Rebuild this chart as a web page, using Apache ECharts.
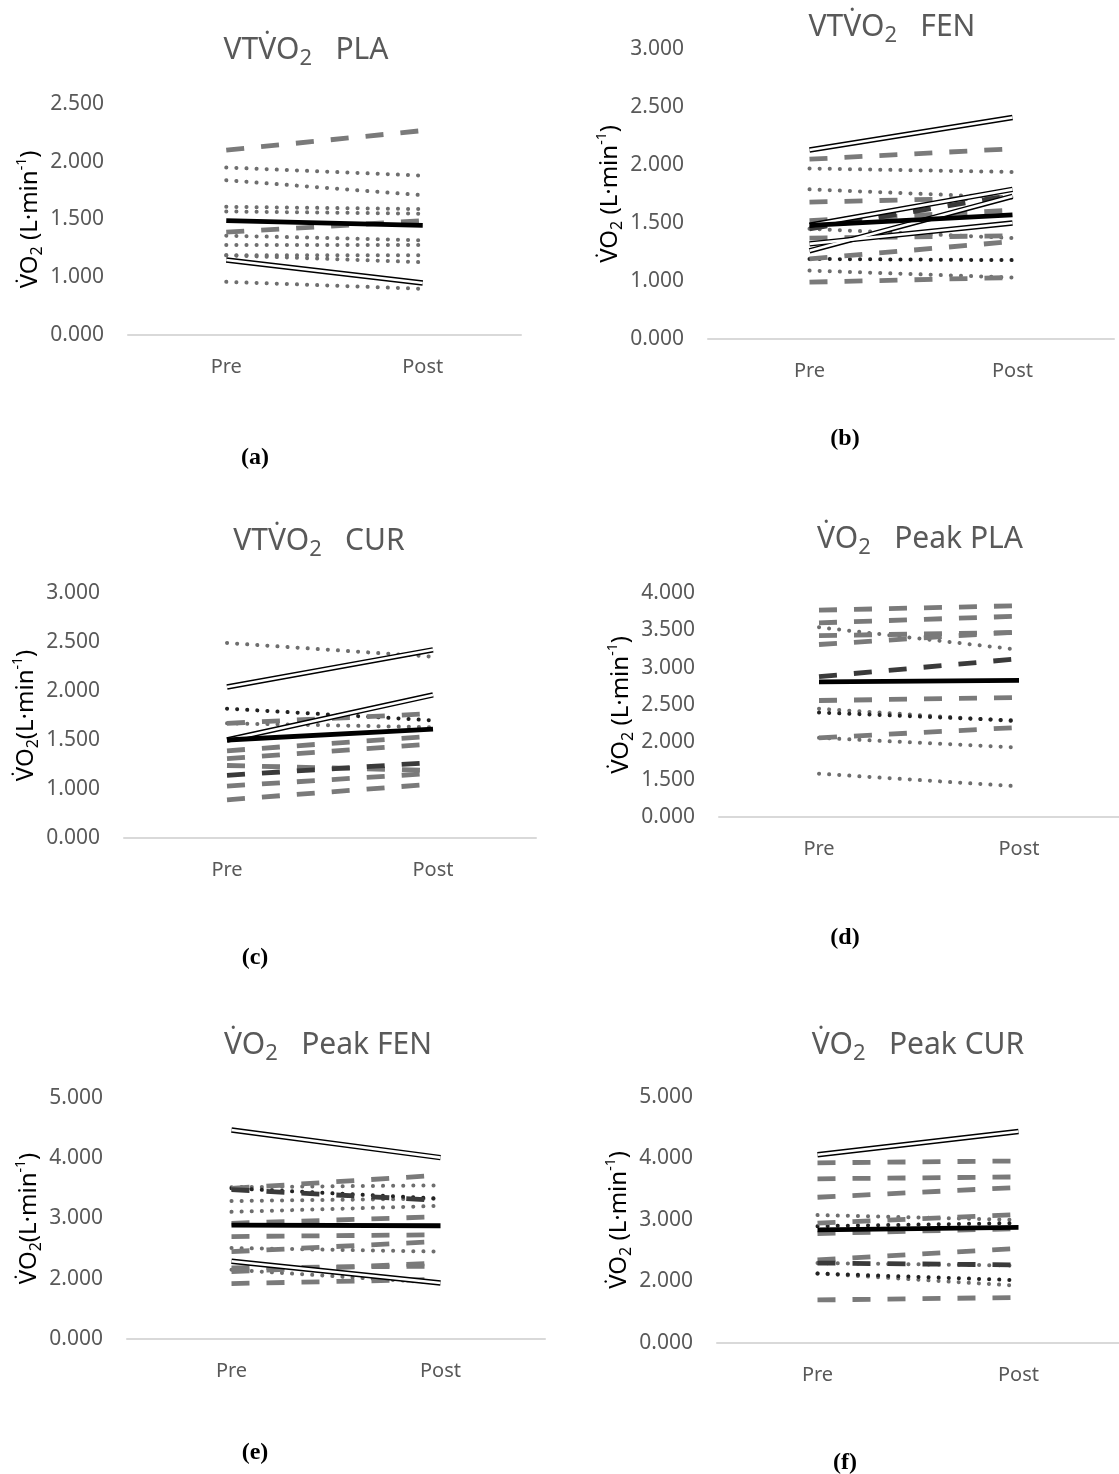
<!DOCTYPE html>
<html><head><meta charset="utf-8">
<script src="https://cdn.jsdelivr.net/npm/echarts@6/dist/echarts.min.js"></script>
<style>html,body{margin:0;padding:0;background:#fff}#c{width:1119px;height:1474px}</style>
</head><body><div id="c"></div>
<script>
const categories = ['Pre', 'Post'];

// (a) VT VO2 PLA
const aTicks = ['0.000', '1.000', '1.500', '2.000', '2.500'];
const aMean = [1.49, 1.45];
const aDashed = [[2.10, 2.27], [1.39, 1.49]];
const aDarkDashed = [];
const aDotted = [[1.95, 1.88], [1.84, 1.71], [1.61, 1.59], [1.57, 1.55], [1.36, 1.32], [1.28, 1.28], [1.19, 1.19], [1.19, 1.13], [0.96, 0.90]];
const aDarkDotted = [];
const aDouble = [[1.15, 0.95]];

// (b) VT VO2 FEN
const bTicks = ['0.000', '1.000', '1.500', '2.000', '2.500', '3.000'];
const bMean = [1.48, 1.57];
const bDashed = [[2.05, 2.14], [1.68, 1.72], [1.52, 1.61], [1.37, 1.39], [1.19, 1.34], [0.99, 1.03]];
const bDarkDashed = [[1.45, 1.74]];
const bDotted = [[1.97, 1.94], [1.79, 1.72], [1.45, 1.37], [1.09, 1.03]];
const bDarkDotted = [[1.19, 1.18]];
const bDouble = [[2.13, 2.41], [1.48, 1.79], [1.26, 1.73], [1.32, 1.50]];

// (c) VT VO2 CUR
const cTicks = ['0.000', '1.000', '1.500', '2.000', '2.500', '3.000'];
const cMean = [1.50, 1.61];
const cDashed = [[1.67, 1.77], [1.39, 1.54], [1.31, 1.46], [1.24, 1.19], [1.03, 1.16], [0.89, 1.05]];
const cDarkDashed = [[1.14, 1.27]];
const cDotted = [[2.49, 2.35], [1.67, 1.63]];
const cDarkDotted = [[1.82, 1.70]];
const cDouble = [[2.04, 2.42], [1.50, 1.96]];

// (d) VO2 Peak PLA
const dTicks = ['0.000', '1.500', '2.000', '2.500', '3.000', '3.500', '4.000'];
const dMean = [2.81, 2.83];
const dDashed = [[3.77, 3.83], [3.60, 3.69], [3.43, 3.47], [3.31, 3.48], [2.56, 2.60], [2.06, 2.20]];
const dDarkDashed = [[2.88, 3.12]];
const dDotted = [[3.54, 3.24], [2.45, 2.28], [2.06, 1.93], [1.58, 1.41]];
const dDarkDotted = [[2.40, 2.29]];
const dDouble = [];

// (e) VO2 Peak FEN
const eTicks = ['0.000', '2.000', '3.000', '4.000', '5.000'];
const eMean = [2.89, 2.88];
const eDashed = [[3.50, 3.72], [2.92, 3.03], [2.70, 2.73], [2.45, 2.62], [2.18, 2.21], [2.12, 2.26], [1.92, 1.99]];
const eDarkDashed = [[3.48, 3.30]];
const eDotted = [[3.52, 3.55], [3.29, 3.33], [3.11, 3.21], [2.51, 2.45], [2.15, 1.93]];
const eDarkDotted = [[3.50, 3.33]];
const eDouble = [[4.47, 4.01], [2.29, 1.93]];

// (f) VO2 Peak CUR
const fTicks = ['0.000', '2.000', '3.000', '4.000', '5.000'];
const fMean = [2.84, 2.88];
const fDashed = [[3.93, 3.96], [3.67, 3.70], [3.37, 3.53], [2.95, 3.09], [2.78, 2.86], [2.35, 2.54], [1.70, 1.74]];
const fDarkDashed = [[2.30, 2.27]];
const fDotted = [[3.08, 3.00], [2.30, 2.26], [2.13, 1.93]];
const fDarkDotted = [[2.13, 2.02], [2.90, 2.95]];
const fDouble = [[4.06, 4.44]];

const panels = [
  {ticks: aTicks, mean: aMean, dashed: aDashed, darkDashed: aDarkDashed, dotted: aDotted, darkDotted: aDarkDotted, dbl: aDouble,
   min: 0.5, max: 2.5, interval: 0.5, left: 128, top: 104, width: 393, height: 231,
   title: ['VTV\u0307O', '2', '   PLA'], tx: 306, ty: 30, cap: 'a', cx: 255, cy: 443, yname: ' (L·min'},
  {ticks: bTicks, mean: bMean, dashed: bDashed, darkDashed: bDarkDashed, dotted: bDotted, darkDotted: bDarkDotted, dbl: bDouble,
   min: 0.5, max: 3.0, interval: 0.5, left: 708, top: 49, width: 406, height: 290,
   title: ['VTV\u0307O', '2', '   FEN'], tx: 892, ty: 7, cap: 'b', cx: 845, cy: 424, yname: ' (L·min'},
  {ticks: cTicks, mean: cMean, dashed: cDashed, darkDashed: cDarkDashed, dotted: cDotted, darkDotted: cDarkDotted, dbl: cDouble,
   min: 0.5, max: 3.0, interval: 0.5, left: 124, top: 593, width: 412, height: 245,
   title: ['VTV\u0307O', '2', '   CUR'], tx: 319, ty: 521, cap: 'c', cx: 255, cy: 943, yname: '(L·min'},
  {ticks: dTicks, mean: dMean, dashed: dDashed, darkDashed: dDarkDashed, dotted: dDotted, darkDotted: dDarkDotted, dbl: dDouble,
   min: 1.0, max: 4.0, interval: 0.5, left: 719, top: 593, width: 415, height: 224,
   title: ['V\u0307O', '2', '   Peak PLA'], tx: 920, ty: 519, cap: 'd', cx: 845, cy: 923, yname: ' (L·min'},
  {ticks: eTicks, mean: eMean, dashed: eDashed, darkDashed: eDarkDashed, dotted: eDotted, darkDotted: eDarkDotted, dbl: eDouble,
   min: 1, max: 5, interval: 1, left: 127, top: 1098, width: 418, height: 241,
   title: ['V\u0307O', '2', '   Peak FEN'], tx: 328, ty: 1025, cap: 'e', cx: 255, cy: 1438, yname: '(L·min'},
  {ticks: fTicks, mean: fMean, dashed: fDashed, darkDashed: fDarkDashed, dotted: fDotted, darkDotted: fDarkDotted, dbl: fDouble,
   min: 1, max: 5, interval: 1, left: 717, top: 1097, width: 417, height: 246,
   title: ['V\u0307O', '2', '   Peak CUR'], tx: 918, ty: 1025, cap: 'f', cx: 845, cy: 1448, yname: ' (L·min'}
];

const FONT = '"Noto Sans", "Open Sans", "DejaVu Sans", sans-serif';
const SERIF = '"Liberation Serif", "DejaVu Serif", serif';
const grids = [], xAxes = [], yAxes = [], series = [], titles = [];

const styles = {
  dashed: {color: '#7a7a7a', width: 4.8, type: [18, 17], cap: 'butt'},
  darkDashed: {color: '#3a3a3a', width: 4.8, type: [18, 17], cap: 'butt'},
  dotted: {color: '#6e6e6e', width: 4, type: [0.1, 10], cap: 'round'},
  darkDotted: {color: '#222222', width: 4, type: [0.1, 10], cap: 'round'},
  mean: {color: '#000000', width: 4.8, type: 'solid'}
};

function addLine(i, data, ls, z) {
  series.push({
    type: 'line', xAxisIndex: i, yAxisIndex: i, data: data,
    symbol: 'none', showSymbol: false, silent: true, animation: false, z: z,
    lineStyle: Object.assign({}, ls)
  });
}

panels.forEach((p, i) => {
  grids.push({left: p.left, top: p.top, width: p.width, height: p.height, containLabel: false});
  xAxes.push({
    type: 'category', gridIndex: i, data: categories, boundaryGap: true,
    axisLine: {lineStyle: {color: '#d9d9d9', width: 2}},
    axisTick: {show: false},
    axisLabel: {color: '#595959', fontSize: 20, fontFamily: FONT, margin: 22}
  });
  const ticks = p.ticks;
  yAxes.push({
    type: 'value', gridIndex: i, min: p.min, max: p.max, interval: p.interval,
    splitLine: {show: false}, axisLine: {show: false}, axisTick: {show: false},
    axisLabel: {color: '#595959', fontSize: 21, fontFamily: FONT, margin: 24,
      formatter: (v, idx) => ticks[idx]},
    name: '{a|V\u0307O}{s|2}{a|' + p.yname + '}{p|-1}{a|)}',
    nameLocation: 'middle', nameRotate: 90, nameGap: 83,
    nameTextStyle: {
      color: '#000', fontFamily: FONT, fontSize: 24,
      rich: {
        a: {fontSize: 24, lineHeight: 30, color: '#000', fontFamily: FONT},
        s: {fontSize: 16, lineHeight: 10, verticalAlign: 'bottom', color: '#000', fontFamily: FONT},
        p: {fontSize: 14, lineHeight: 12, verticalAlign: 'top', color: '#000', fontFamily: FONT}
      }
    }
  });
  p.dotted.forEach(d => addLine(i, d, styles.dotted, 2));
  p.darkDotted.forEach(d => addLine(i, d, styles.darkDotted, 2));
  p.dashed.forEach(d => addLine(i, d, styles.dashed, 3));
  p.darkDashed.forEach(d => addLine(i, d, styles.darkDashed, 3));
  p.dbl.forEach(d => {
    addLine(i, d, {color: '#000', width: 5.5, type: 'solid'}, 4);
    addLine(i, d, {color: '#ffffff', width: 2.6, type: 'solid'}, 5);
  });
  addLine(i, p.mean, styles.mean, 6);

  titles.push({
    text: '{a|' + p.title[0] + '}{s|' + p.title[1] + '}{a|' + p.title[2] + '}',
    left: p.tx, top: p.ty, textAlign: 'center', padding: 0,
    textStyle: {
      fontFamily: FONT, fontSize: 30, color: '#595959', fontWeight: 'normal',
      rich: {
        a: {fontSize: 30, lineHeight: 40, color: '#595959', fontFamily: FONT},
        s: {fontSize: 22, lineHeight: 20, verticalAlign: 'bottom', color: '#595959', fontFamily: FONT}
      }
    }
  });
  titles.push({
    text: '{n|(}{b|' + p.cap + '}{n|)}',
    left: p.cx, top: p.cy, textAlign: 'center', padding: 0,
    textStyle: {
      fontSize: 24, color: '#000',
      rich: {
        n: {fontSize: 24, lineHeight: 30, fontFamily: SERIF, color: '#000'},
        b: {fontSize: 24, lineHeight: 30, fontWeight: 'bold', fontFamily: SERIF, color: '#000'}
      }
    }
  });
});

const chart = echarts.init(document.getElementById('c'), null, {renderer: 'canvas'});
chart.setOption({
  backgroundColor: '#ffffff',
  animation: false,
  title: titles,
  grid: grids,
  xAxis: xAxes,
  yAxis: yAxes,
  series: series
});
</script>
</body></html>
